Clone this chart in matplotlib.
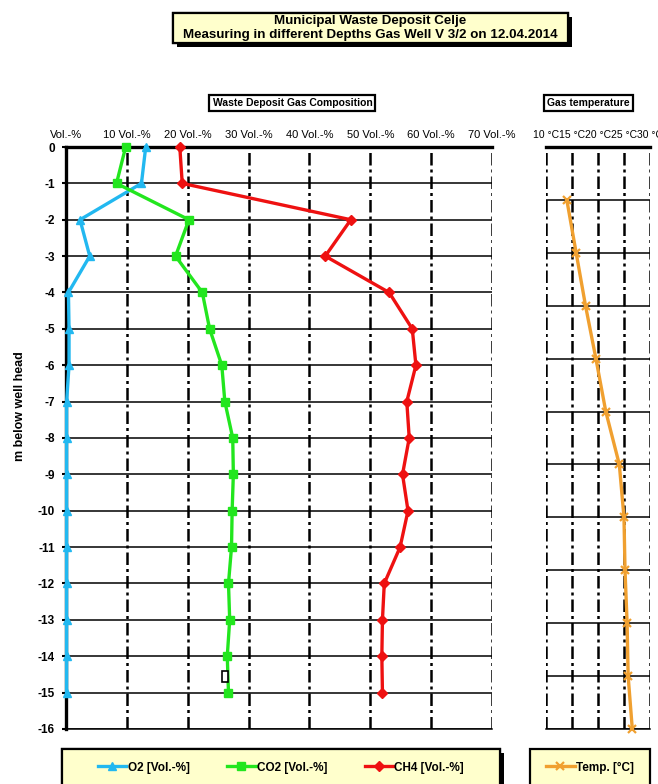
"""
Gas well depth profile - gas composition + gas temperature
"""

import matplotlib
matplotlib.use('Agg')
import matplotlib.pyplot as plt
import matplotlib.patheffects as pe

plt.rcParams['font.family'] = ['Liberation Sans', 'DejaVu Sans']
plt.rcParams['axes.unicode_minus'] = False

# depth [m] for the composition profile
depth = [0, -1, -2, -3, -4, -5, -6, -7, -8, -9, -10, -11, -12, -13, -14, -15]
o2 = [13.1, 12.4, 2.3, 3.9, 0.4, 0.5, 0.5, 0.1, 0.1, 0.1, 0.1, 0.1, 0.1, 0.1, 0.1, 0.1]
co2 = [9.8, 8.3, 20.2, 18.0, 22.4, 23.6, 25.6, 26.1, 27.4, 27.5, 27.3, 27.2, 26.7, 26.9, 26.5, 26.7]
ch4 = [18.7, 19.1, 46.8, 42.6, 53.1, 56.9, 57.5, 56.0, 56.4, 55.3, 56.2, 54.9, 52.3, 52.0, 51.9, 52.0]

# temperature profile (own grid, 11 steps)
temp_step = [-1, -2, -3, -4, -5, -6, -7, -8, -9, -10, -11]
temp = [14.0, 15.8, 17.6, 19.6, 21.5, 24.1, 25.0, 25.2, 25.6, 25.8, 26.6]

vol_ticks = [0, 10, 20, 30, 40, 50, 60, 70]
vol_labels = ['Vol.-%', '10 Vol.-%', '20 Vol.-%', '30 Vol.-%', '40 Vol.-%',
              '50 Vol.-%', '60 Vol.-%', '70 Vol.-%']
temp_ticks = [10, 15, 20, 25, 30]
temp_labels = ['10 °C', '15 °C', '20 °C', '25 °C', '30 °C']
depth_ticks = list(range(0, -17, -1))

C_O2 = '#22B8F0'
C_CO2 = '#22E61E'
C_CH4 = '#EE1111'
C_TEMP = '#F0A030'
BOX_FILL = '#FFFFCC'
DASHDOT = (0, (5, 1.6, 1.2, 1.6))

fig = plt.figure(figsize=(6.58, 7.84), dpi=100)
ax1 = fig.add_axes([0.1003, 0.0702, 0.6474, 0.7423])
ax2 = fig.add_axes([0.8298, 0.0702, 0.1580, 0.7423])

shadow = [pe.withSimplePatchShadow(offset=(3, -3), shadow_rgbFace='black',
                                   alpha=1), pe.Normal()]


def style_panel(ax):
    ax.xaxis.tick_top()
    ax.set_axisbelow(True)
    ax.xaxis.grid(True, color='black', linestyle=DASHDOT, linewidth=1.8)
    ax.yaxis.grid(True, color='black', linestyle='-', linewidth=1.1)
    ax.spines['right'].set_visible(False)
    ax.spines['top'].set_linewidth(2.4)
    ax.spines['bottom'].set_linewidth(1.1)
    ax.tick_params(axis='x', length=0, pad=5, labelsize=8)
    ax.tick_params(axis='y', length=3, width=1.5, pad=5, labelsize=8.5)
    for lab in ax.get_yticklabels():
        lab.set_fontweight('bold')


def fig_box(x0, y0, x1, y1, fill, with_shadow=False):
    # box in pixel coordinates from the top-left corner
    r = plt.Rectangle((x0 / 658, 1 - y1 / 784), (x1 - x0) / 658, (y1 - y0) / 784,
                      transform=fig.transFigure, fc=fill, ec='black',
                      lw=1.6, zorder=0)
    if with_shadow:
        r.set_path_effects(shadow)
    fig.patches.append(r)


# --- gas composition ---
line_kw = dict(lw=2.4, zorder=3, clip_on=False)
ax1.plot(o2, depth, color=C_O2, marker='^', ms=6, label='O2 [Vol.-%]', **line_kw)
ax1.plot(co2, depth, color=C_CO2, marker='s', ms=6, label='CO2 [Vol.-%]', **line_kw)
ax1.plot(ch4, depth, color=C_CH4, marker='D', ms=5, label='CH4 [Vol.-%]', **line_kw)
ax1.set_xlim(0, 70)
ax1.set_ylim(-16, 0)
ax1.set_xticks(vol_ticks)
ax1.set_xticklabels(vol_labels)
ax1.set_yticks(depth_ticks)
style_panel(ax1)
ax1.spines['left'].set_linewidth(2.4)

# stray empty label box below the CO2 point at -14 m
ax1.text(co2[-2] - 0.4, -14.55, ' ', fontsize=6, ha='center', va='center',
         bbox=dict(boxstyle='square,pad=0.25', fc='white', ec='black', lw=1.2))

# --- gas temperature ---
ax2.plot(temp, temp_step, color=C_TEMP, marker='x', ms=6, mew=1.6,
         label='Temp. [°C]', **line_kw)
ax2.set_xlim(10, 30)
ax2.set_ylim(-11, 0)
ax2.set_xticks(temp_ticks)
ax2.set_xticklabels(temp_labels)
ax2.set_yticks(temp_step)
ax2.set_yticklabels([])
style_panel(ax2)
ax2.spines['left'].set_visible(False)
ax2.tick_params(axis='y', length=0)
ax2.tick_params(axis='x', labelsize=7.5)

fig.text(0.030, 1 - 406 / 784, 'm below well head', rotation=90, ha='center',
         va='center', fontsize=9, fontweight='bold')

# --- titles ---
fig_box(173, 13, 568, 43, BOX_FILL, with_shadow=True)
fig.text(0.563, 1 - 28 / 784, 'Municipal Waste Deposit Celje\n'
         'Measuring in different Depths Gas Well V 3/2 on 12.04.2014',
         ha='center', va='center', fontsize=9.6, fontweight='bold',
         linespacing=1.15)

fig.text(0.4445, 1 - 103 / 784, 'Waste Deposit Gas Composition', ha='center',
         va='center', fontsize=7.5, fontweight='bold',
         bbox=dict(boxstyle='square,pad=0.3', fc='white', ec='black', lw=1.6))
fig.text(0.8945, 1 - 103 / 784, 'Gas temperature', ha='center', va='center',
         fontsize=7.5, fontweight='bold',
         bbox=dict(boxstyle='square,pad=0.3', fc='white', ec='black', lw=1.6))

# --- legends ---
h1, l1 = ax1.get_legend_handles_labels()
fig.legend(h1, l1, loc='center', ncol=3,
           bbox_to_anchor=(62 / 658, -2 / 784, 438 / 658, 37 / 784),
           prop={'size': 8.5, 'weight': 'bold'}, handlelength=2.4,
           handletextpad=0.1, columnspacing=3.2, frameon=False)
fig_box(62, 749, 500, 788, BOX_FILL, with_shadow=True)

h2, l2 = ax2.get_legend_handles_labels()
fig.legend(h2, l2, loc='center',
           bbox_to_anchor=(530 / 658, -2 / 784, 120 / 658, 37 / 784),
           prop={'size': 8.5, 'weight': 'bold'}, handlelength=2.4,
           handletextpad=0.1, frameon=False)
fig_box(530, 749, 650, 788, BOX_FILL)

fig.savefig('out.png', dpi=100)
